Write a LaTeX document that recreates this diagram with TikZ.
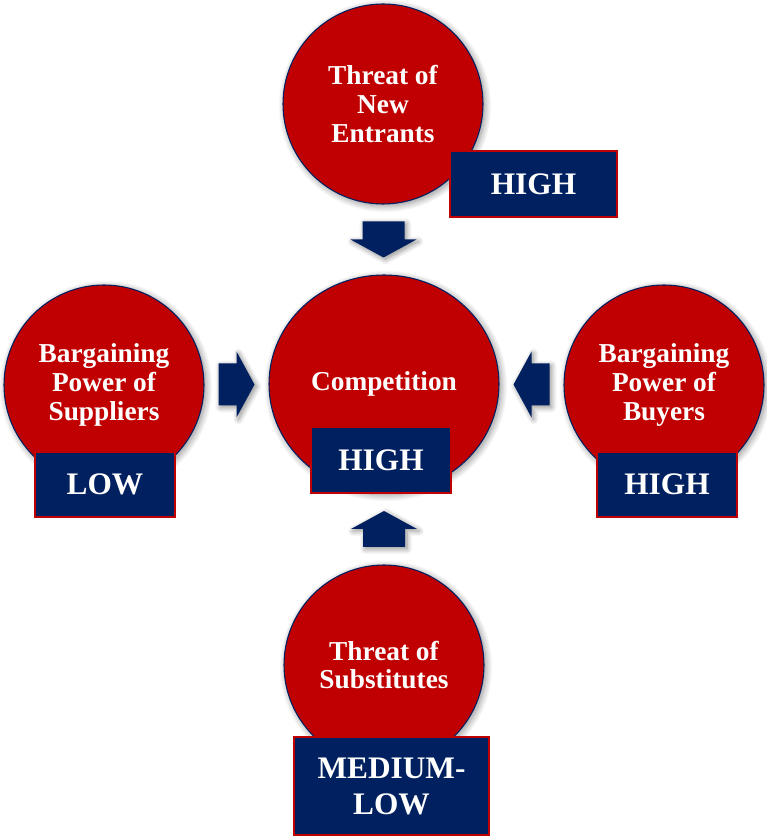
\documentclass[tikz,border=0pt]{standalone}
\usepackage{fontspec}
\setmainfont{Liberation Serif}
\usepackage{tikz}
\usetikzlibrary{shapes.geometric, shadows.blur, calc}
\definecolor{forcered}{RGB}{192, 0, 0}
\definecolor{navy1}{RGB}{0, 32, 96}
\tikzset{
  force/.style={circle, draw=navy1, line width=0.8pt, fill=forcered, text=white, align=center, minimum size=150pt, inner sep=0pt,
    font=\fontsize{20.5}{21.5}\selectfont\bfseries,
    blur shadow={shadow xshift=1.5pt, shadow yshift=-1.5pt, shadow blur radius=5pt, shadow blur steps=12, shadow opacity=45}},
  level/.style={rectangle, draw=forcered, line width=0.8pt, fill=navy1, text=white, align=center, inner sep=0pt,
    font=\fontsize{23.5}{27}\selectfont\bfseries},
  blockarrow/.pic={
    \fill[navy1, blur shadow={shadow xshift=1.5pt, shadow yshift=-1.5pt, shadow blur radius=4pt, shadow blur steps=10, shadow opacity=45}]
      (-18,-21) -- (0,-21) -- (0,-33) -- (18,0) -- (0,33) -- (0,21) -- (-18,21) -- cycle;
  }
}

\begin{document}
\begin{tikzpicture}[x=0.75pt, y=0.75pt]
  \useasboundingbox (0,0) rectangle (767,836);

  % The five forces
  \node[force] (entrants) at (383, 732) {Threat of\\New\\Entrants};
  \node[force] (suppliers) at (104, 451) {Bargaining\\Power of\\Suppliers};
  \node[force, ellipse, minimum width=172.5pt, minimum height=163.5pt] (comp) at (384, 452) {Competition};
  \node[force] (buyers) at (664, 451) {Bargaining\\Power of\\Buyers};
  \node[force] (subs) at (384, 171) {Threat of\\Substitutes};

  % Ratings
  \node[level, minimum width=125.25pt, minimum height=49.5pt] (entrantsLvl) at (533.5, 652) {HIGH};
  \node[level, minimum width=105pt, minimum height=48.75pt] (suppliersLvl) at (105, 351.5) {LOW};
  \node[level, minimum width=105pt, minimum height=49.5pt] (compLvl) at (381, 376) {HIGH};
  \node[level, minimum width=105pt, minimum height=48.75pt] (buyersLvl) at (667, 351.5) {HIGH};
  \node[level, minimum width=146.25pt, minimum height=73.5pt] (subsLvl) at (391.5, 50) {MEDIUM-\\LOW};

  % Arrows towards competition
  \pic[rotate=-90] at ($(entrants.south)!0.5!(comp.north)$) {blockarrow};
  \pic at ($(suppliers.east)!0.5!(comp.west)$) {blockarrow};
  \pic[rotate=180] at ($(buyers.west)!0.5!(comp.east)$) {blockarrow};
  \pic[rotate=90] at ($(subs.north)!0.5!(comp.south)$) {blockarrow};
\end{tikzpicture}
\end{document}
